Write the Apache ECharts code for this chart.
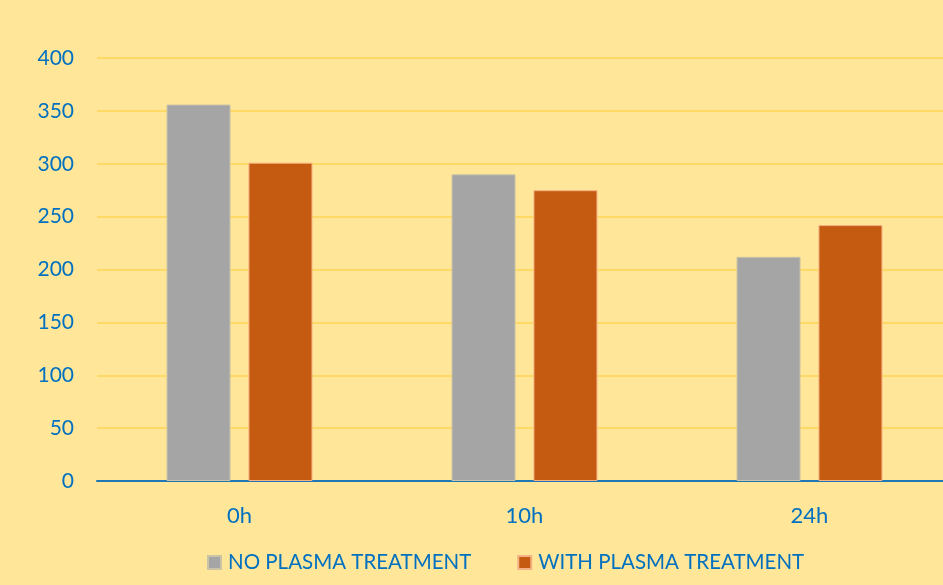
<!DOCTYPE html>
<html>
<head>
<meta charset="utf-8">
<script src="https://cdn.jsdelivr.net/npm/echarts@6/dist/echarts.min.js"></script>
<style>
  html, body { margin: 0; padding: 0; background: #FFE699; }
  #chart { width: 943px; height: 585px; }
</style>
</head>
<body>
<div id="chart"></div>
<script>
// data
var categories = ['0h', '10h', '24h'];
var seriesNames = ['NO PLASMA TREATMENT', 'WITH PLASMA TREATMENT'];
var noPlasma = [356, 290, 212];
var withPlasma = [301, 275, 242];

var blue = '#0070C0';
var font = 'Lato';

var chart = echarts.init(document.getElementById('chart'));
chart.setOption({
  backgroundColor: '#FFE699',
  animation: false,
  textStyle: { fontFamily: font },
  // the plot runs a little past the right edge in the reference
  grid: { left: 97, width: 855, top: 58, bottom: 104, outerBoundsMode: 'none' },
  legend: {
    bottom: 7,
    left: 202,
    itemWidth: 13,
    itemHeight: 13,
    itemGap: 46,
    icon: 'rect',
    textStyle: { color: blue, fontSize: 20.5, fontFamily: font, padding: [0, 0, 0, 2] },
    data: seriesNames
  },
  xAxis: {
    type: 'category',
    data: categories,
    axisTick: { show: false },
    axisLine: { lineStyle: { color: '#1F77B4', width: 2 } },
    axisLabel: { color: blue, fontSize: 22, margin: 24 }
  },
  yAxis: {
    type: 'value',
    min: 0,
    max: 400,
    interval: 50,
    axisLine: { show: false },
    axisTick: { show: false },
    axisLabel: { color: blue, fontSize: 21, margin: 23 },
    splitLine: { lineStyle: { color: '#FFD966', width: 2 } }
  },
  series: [
    {
      name: seriesNames[0],
      type: 'bar',
      data: noPlasma,
      barWidth: 64,
      barGap: '28%',
      itemStyle: { color: '#A5A5A5', borderColor: '#C9C4A6', borderWidth: 1 }
    },
    {
      name: seriesNames[1],
      type: 'bar',
      data: withPlasma,
      barWidth: 64,
      itemStyle: { color: '#C55A11', borderColor: '#F4B183', borderWidth: 1 }
    }
  ]
});
</script>
</body>
</html>
